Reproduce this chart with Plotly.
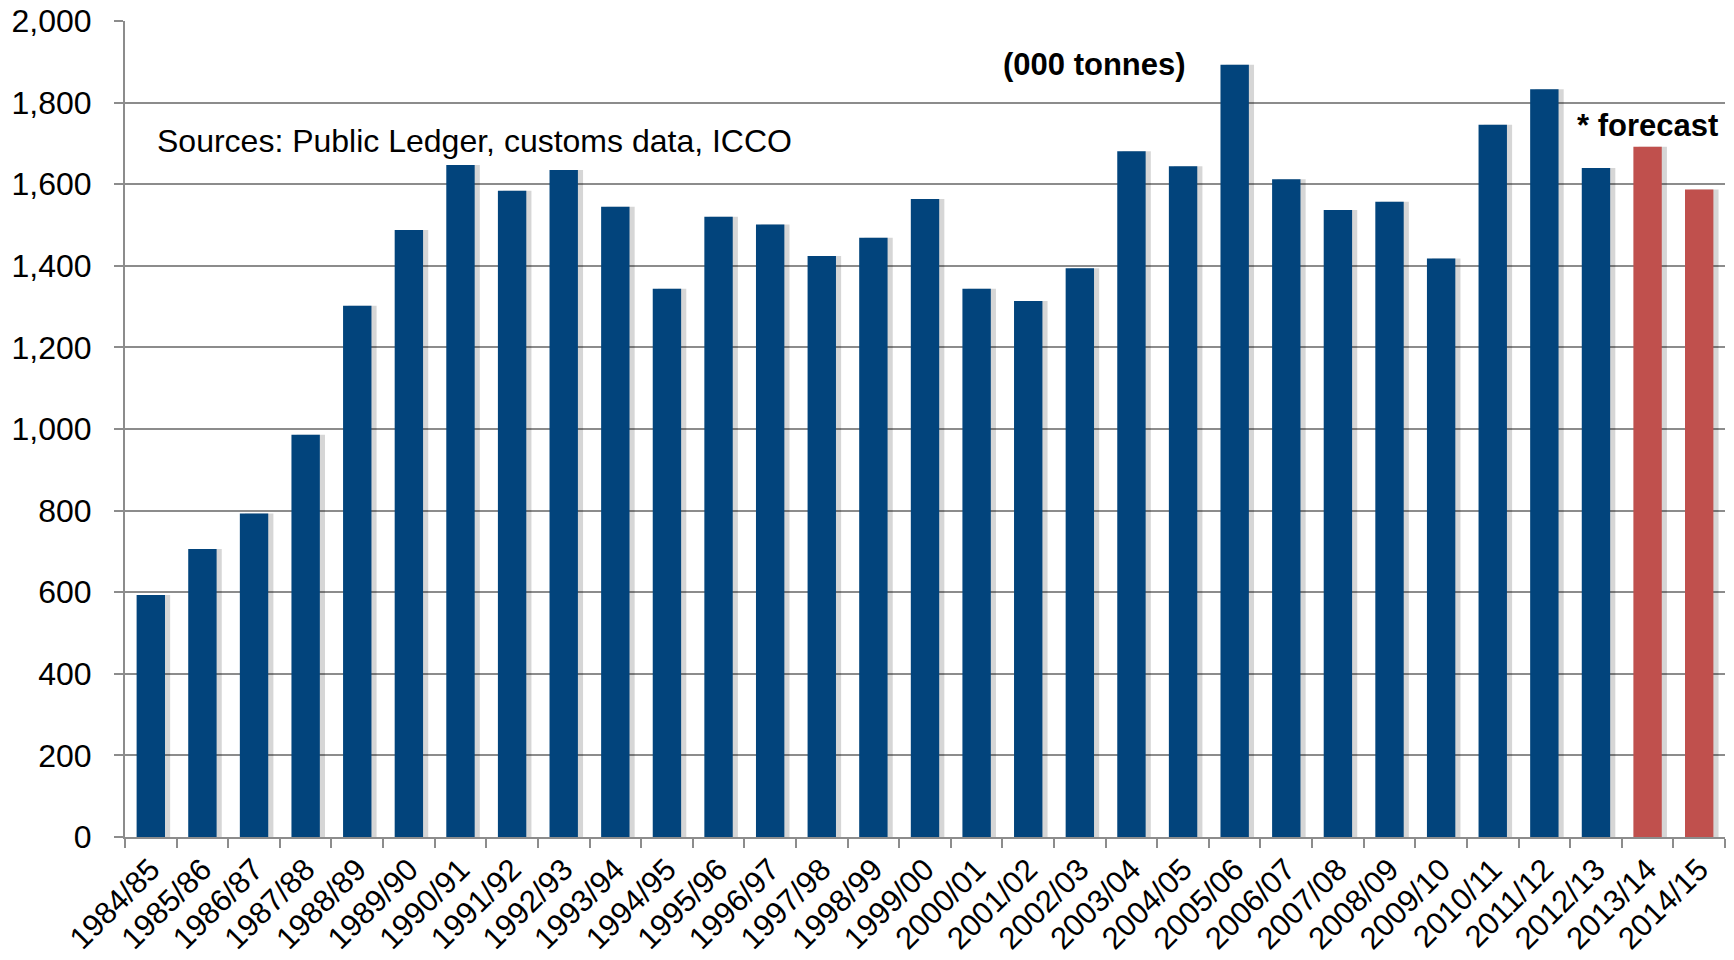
import plotly.graph_objects as go

seasons = ["1984/85", "1985/86", "1986/87", "1987/88", "1988/89", "1989/90",
           "1990/91", "1991/92", "1992/93", "1993/94", "1994/95", "1995/96",
           "1996/97", "1997/98", "1998/99", "1999/00", "2000/01", "2001/02",
           "2002/03", "2003/04", "2004/05", "2005/06", "2006/07", "2007/08",
           "2008/09", "2009/10", "2010/11", "2011/12", "2012/13", "2013/14",
           "2014/15"]
grindings = [593, 706, 793, 986, 1302, 1488, 1647, 1584, 1635, 1545, 1344, 1520,
             1501, 1424, 1469, 1564, 1344, 1314, 1394, 1681, 1644, 1893, 1612,
             1537, 1557, 1418, 1746, 1833, 1640, 1692, 1587]
forecast_seasons = ["2013/14", "2014/15"]
y_ticks = [0, 200, 400, 600, 800, 1000, 1200, 1400, 1600, 1800, 2000]

BLUE = "#02447C"
RED = "#C0504D"
colors = [RED if s in forecast_seasons else BLUE for s in seasons]
FONT = "Arial, Liberation Sans, sans-serif"
GRID = "#8C8C8C"

BAR_W = 0.55
fig = go.Figure()
# soft drop shadow
fig.add_trace(go.Bar(x=seasons, y=grindings, width=BAR_W, offset=-BAR_W / 2 + 0.1,
                     marker=dict(color="rgba(0,0,0,0.16)", line=dict(width=0)),
                     hoverinfo="skip", showlegend=False))
fig.add_trace(go.Bar(x=seasons, y=grindings, width=BAR_W, offset=-BAR_W / 2,
                     marker=dict(color=colors, line=dict(width=0)),
                     showlegend=False))

fig.update_layout(
    width=1734, height=960,
    margin=dict(l=125, r=9, t=21, b=123),
    paper_bgcolor="white", plot_bgcolor="white",
    barmode="overlay",
    font=dict(family=FONT, size=32, color="black"),
    xaxis=dict(type="category", tickangle=-45, showline=True, linecolor=GRID,
               linewidth=2, ticks="outside", tickson="boundaries", ticklen=9,
               tickcolor=GRID, tickwidth=2, showgrid=False, automargin=False,
               tickfont=dict(size=31, family=FONT), range=[-0.5, len(seasons) - 0.5]),
    yaxis=dict(range=[0, 2000], tickvals=y_ticks, tickformat=",d", showgrid=True,
               gridcolor=GRID, gridwidth=2, showline=True, linecolor=GRID,
               linewidth=2, ticks="outside", ticklen=9, tickcolor=GRID,
               tickwidth=2, zeroline=False, automargin=False, ticklabelstandoff=16,
               tickfont=dict(size=32, family=FONT)),
    annotations=[
        dict(text="Sources: Public Ledger, customs data, ICCO", xref="paper",
             yref="y", x=0.019, y=1705, xanchor="left", yanchor="middle",
             showarrow=False, font=dict(size=32, family=FONT, color="black")),
        dict(text="<b>(000 tonnes)</b>", xref="paper", yref="y", x=0.5475,
             y=1893, xanchor="left", yanchor="middle", showarrow=False,
             font=dict(size=31, family=FONT, color="black")),
        dict(text="<b>* forecast</b>", xref="paper", yref="y", x=0.997,
             y=1744, xanchor="right", yanchor="middle", showarrow=False,
             font=dict(size=31, family=FONT, color="black")),
    ],
)

fig.write_html("out.html", config={"displayModeBar": False},
               post_script="document.body.style.margin='0';document.body.style.overflow='hidden';")
